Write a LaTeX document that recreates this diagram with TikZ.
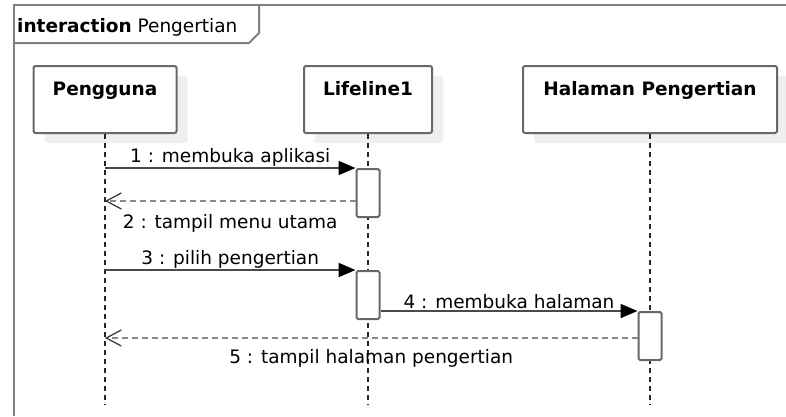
\documentclass[tikz,border=0pt]{standalone}
\usepackage{fontspec}
\setmainfont{DejaVu Sans}
\usetikzlibrary{arrows.meta,positioning,shadows}
\definecolor{seqFrameGray}{HTML}{808080}
\definecolor{seqBoxGray}{HTML}{686868}
\definecolor{seqLineGray}{HTML}{4A4A4A}
\definecolor{seqReplyGray}{HTML}{888888}
\definecolor{seqShadowGray}{HTML}{EFEFEF}

\begin{document}
\begin{tikzpicture}[x=1pt,y=-1pt,
    every node/.style={font=\fontsize{18.5}{22}\selectfont},
    lifehead/.style={draw=seqBoxGray,line width=2pt,fill=white,rounded corners=2pt,
      inner xsep=0pt,inner ysep=0pt,text height=29pt,text depth=38pt,anchor=north,
      font=\fontsize{18.5}{22}\selectfont\bfseries,
      drop shadow={shadow xshift=11pt,shadow yshift=-10pt,fill=seqShadowGray,opacity=1}},
    lifeline/.style={draw=black!85,line width=1.8pt,dash pattern=on 5pt off 4pt},
    activation/.style={draw=seqBoxGray,line width=2pt,fill=white,rounded corners=1.5pt,
      minimum width=23pt,minimum height=48pt,inner sep=0pt,anchor=north},
    call/.style={draw=seqLineGray,line width=2pt,
      -{Triangle[length=17pt,width=14pt,color=black,fill=black]}},
    reply/.style={draw=seqReplyGray,line width=2.2pt,dash pattern=on 6pt off 4pt,
      -{Straight Barb[length=15pt,width=16pt,color=black!80,line width=1.2pt]}}]
    \useasboundingbox (0,0) rectangle (786,416);
    \draw[seqFrameGray,line width=2pt] (786,5) -- (14,5) -- (14,416);
    \draw[seqFrameGray,line width=2pt] (14,43) -- (249,43) -- (259,33) -- (259,5);
    \node[anchor=base west,inner sep=0pt] (framelabel) at (17,32) {\textbf{interaction} Pengertian};

    \node[lifehead,minimum width=143pt] (pengguna) at (105,65) {Pengguna};
    \node[lifehead,minimum width=128pt] (lifelineA) at (368,65) {Lifeline1};
    \node[lifehead,minimum width=254pt] (halaman) at (650,65) {Halaman Pengertian};

    \coordinate (llend) at (0,405);
    \foreach \n in {pengguna,lifelineA,halaman}
        \draw[lifeline] (\n.south) -- (\n.south |- llend);

    \node[activation] (act1) at (lifelineA.south |- 0,168) {};
    \node[activation] (act2) at (lifelineA.south |- 0,270) {};
    \node[activation] (act3) at (halaman.south |- 0,311) {};

    \coordinate (r2) at (0,201);
    \coordinate (r5) at (0,338);

    \draw[call] (pengguna.south |- act1.north) -- (act1.north west)
        node[midway,above,inner sep=1pt] {1 : membuka aplikasi};
    \draw[reply] (act1.west |- r2) -- (pengguna.south |- r2)
        node[midway,below=12pt,inner sep=0pt] {2 : tampil menu utama};
    \draw[call] (pengguna.south |- act2.north) -- (act2.north west)
        node[midway,above,inner sep=1pt] {3 : pilih pengertian};
    \draw[call] (act2.east |- act3.north) -- (act3.north west)
        node[midway,above,inner sep=1pt] {4 : membuka halaman};
    \draw[reply] (act3.west |- r5) -- (pengguna.south |- r5)
        node[midway,below=10pt,inner sep=0pt] {5 : tampil halaman pengertian};
\end{tikzpicture}
\end{document}
